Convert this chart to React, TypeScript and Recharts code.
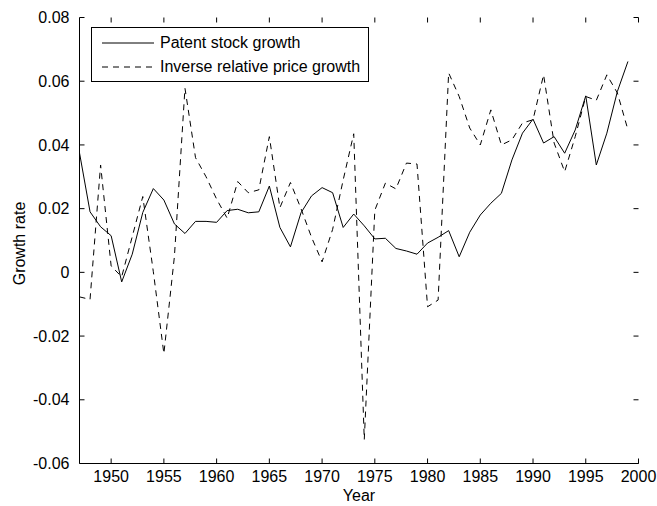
import React from 'react';
import { LineChart, Line, XAxis, YAxis, Legend } from 'recharts';

const years = [
  1947, 1948, 1949, 1950, 1951, 1952, 1953, 1954, 1955, 1956, 1957, 1958, 1959, 1960,
  1961, 1962, 1963, 1964, 1965, 1966, 1967, 1968, 1969, 1970, 1971, 1972, 1973, 1974,
  1975, 1976, 1977, 1978, 1979, 1980, 1981, 1982, 1983, 1984, 1985, 1986, 1987, 1988,
  1989, 1990, 1991, 1992, 1993, 1994, 1995, 1996, 1997, 1998, 1999,
];

const patentStockGrowth = [
  0.0375, 0.019, 0.0143, 0.0115, -0.003, 0.0057, 0.0188, 0.0263, 0.0227, 0.0152, 0.0122, 0.016, 0.016, 0.0157,
  0.0194, 0.0198, 0.0187, 0.019, 0.0271, 0.0141, 0.008, 0.0187, 0.024, 0.0266, 0.025, 0.0141, 0.0183, 0.0146,
  0.0105, 0.0107, 0.0075, 0.0067, 0.0057, 0.0092, 0.011, 0.0131, 0.0049, 0.0126, 0.018, 0.0217, 0.0248, 0.0353,
  0.0437, 0.0481, 0.0406, 0.0426, 0.0374, 0.0447, 0.0554, 0.0337, 0.0437, 0.0568, 0.0662,
];

const inversePriceGrowth = [
  -0.0077, -0.0085, 0.0337, 0.002, -0.0014, 0.0112, 0.0238, 0.0002, -0.0255, 0.005, 0.0578, 0.036, 0.03, 0.023,
  0.017, 0.0285, 0.025, 0.0259, 0.0426, 0.0203, 0.0282, 0.02, 0.011, 0.0033, 0.0135, 0.029, 0.0435, -0.0525,
  0.0195, 0.028, 0.0262, 0.0343, 0.034, -0.0108, -0.0087, 0.0626, 0.0552, 0.0453, 0.04, 0.051, 0.04, 0.0416,
  0.0469, 0.0479, 0.062, 0.0406, 0.0316, 0.0426, 0.0552, 0.054, 0.062, 0.0563, 0.0447,
];

const xTicks = [1950, 1955, 1960, 1965, 1970, 1975, 1980, 1985, 1990, 1995, 2000];
const yTicks = [-0.06, -0.04, -0.02, 0, 0.02, 0.04, 0.06, 0.08];

const seriesNames = ['Patent stock growth', 'Inverse relative price growth'];

const data = years.map((year, i) => ({
  year,
  patent: patentStockGrowth[i],
  price: inversePriceGrowth[i],
}));

const WIDTH = 657;
const HEIGHT = 506;
const MARGIN = { top: 17.5, right: 18.5, bottom: 0, left: 0 };
const FONT = '"Liberation Sans", Arial, sans-serif';
const DASH = '6 5';
const TICK_LEN = 5;
const X_GAP = 7;
const Y_GAP = 10;

const fmtY = (v: number) => (v === 0 ? '0' : v.toFixed(2));

// matlab style: tick marks point into the box, on all four sides
const renderBottomTick = (p: any) => {
  const ay = p.y - X_GAP;
  const top = MARGIN.top;
  return (
    <g>
      <line x1={p.x} x2={p.x} y1={ay} y2={ay - TICK_LEN} stroke="#000" />
      <line x1={p.x} x2={p.x} y1={top} y2={top + TICK_LEN} stroke="#000" />
      <text x={p.x} y={p.y} dy="0.71em" textAnchor="middle" fill="#000" fontSize={16} fontFamily={FONT}>
        {p.payload.value}
      </text>
    </g>
  );
};

const renderLeftTick = (p: any) => {
  const ax = p.x + Y_GAP;
  const right = WIDTH - MARGIN.right;
  return (
    <g>
      <line x1={ax} x2={ax + TICK_LEN} y1={p.y} y2={p.y} stroke="#000" />
      <line x1={right} x2={right - TICK_LEN} y1={p.y} y2={p.y} stroke="#000" />
      <text x={p.x} y={p.y} dy="0.355em" textAnchor="end" fill="#000" fontSize={16} fontFamily={FONT}>
        {fmtY(p.payload.value)}
      </text>
    </g>
  );
};

function LegendBox() {
  const rows = [
    { name: seriesNames[0], dash: undefined },
    { name: seriesNames[1], dash: DASH },
  ];
  return (
    <div
      style={{
        border: '1px solid #000',
        background: '#fff',
        padding: '3px 8px 2px 10px',
        fontFamily: FONT,
        fontSize: 16,
        color: '#000',
        whiteSpace: 'nowrap',
      }}
    >
      {rows.map((r) => (
        <div key={r.name} style={{ display: 'flex', alignItems: 'center', height: 24 }}>
          <svg width={52} height={10} style={{ marginRight: 6 }}>
            <line x1={0} y1={5} x2={52} y2={5} stroke="#000" strokeWidth={1} strokeDasharray={r.dash} />
          </svg>
          <span>{r.name}</span>
        </div>
      ))}
    </div>
  );
}

function YLabel(props: any) {
  const vb = props.viewBox || {};
  const cx = 25;
  const cy = vb.y + vb.height / 2 + 3;
  return (
    <text
      x={cx}
      y={cy}
      transform={`rotate(-90, ${cx}, ${cy})`}
      textAnchor="middle"
      fontFamily={FONT}
      fontSize={16}
      fill="#000"
    >
      Growth rate
    </text>
  );
}

export default function App() {
  return (
    <div style={{ position: 'absolute', left: 0, top: 0, background: '#fff' }}>
      <LineChart width={WIDTH} height={HEIGHT} data={data} margin={MARGIN}>
        <XAxis
          dataKey="year"
          type="number"
          domain={[1947, 2000]}
          ticks={xTicks}
          allowDataOverflow
          height={42.5}
          stroke="#000"
          tick={renderBottomTick}
          tickLine={false}
          tickSize={0}
          tickMargin={X_GAP}
          label={{ value: 'Year', position: 'insideBottom', offset: 5, fill: '#000', fontSize: 16, fontFamily: FONT }}
        />
        <XAxis
          xAxisId="top"
          orientation="top"
          type="number"
          domain={[1947, 2000]}
          ticks={xTicks}
          allowDataOverflow
          height={0}
          stroke="#000"
          tick={false}
          tickSize={-TICK_LEN}
        />
        <YAxis
          type="number"
          domain={[-0.06, 0.08]}
          ticks={yTicks}
          allowDataOverflow
          width={79.5}
          stroke="#000"
          tick={renderLeftTick}
          tickLine={false}
          tickSize={0}
          tickMargin={Y_GAP}
          label={<YLabel />}
        />
        <YAxis
          yAxisId="right"
          orientation="right"
          type="number"
          domain={[-0.06, 0.08]}
          ticks={yTicks}
          allowDataOverflow
          width={0}
          stroke="#000"
          tick={false}
          tickSize={-TICK_LEN}
        />
        <Legend
          layout="horizontal"
          verticalAlign="middle"
          align="center"
          content={() => <LegendBox />}
          wrapperStyle={{ left: 91, top: 27, width: 'auto', height: 'auto' }}
        />
        <Line
          type="linear"
          dataKey="patent"
          name={seriesNames[0]}
          stroke="#000"
          strokeWidth={1}
          dot={false}
          isAnimationActive={false}
        />
        <Line
          type="linear"
          dataKey="price"
          name={seriesNames[1]}
          stroke="#000"
          strokeWidth={1}
          strokeDasharray={DASH}
          dot={false}
          isAnimationActive={false}
        />
      </LineChart>
    </div>
  );
}
